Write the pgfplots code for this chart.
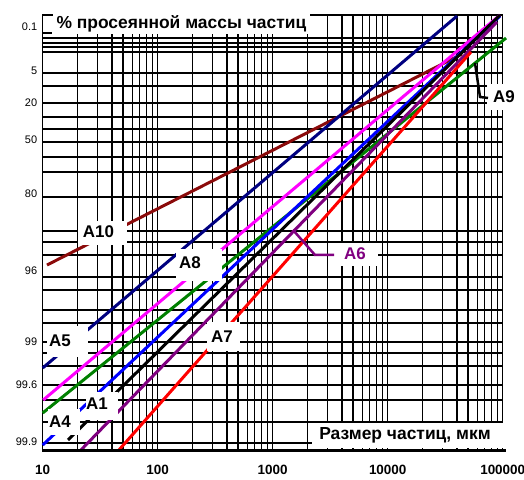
\documentclass[border=0pt]{standalone}
\usepackage{fontspec}
\setmainfont{Liberation Sans}
\usepackage{pgfplots}
\pgfplotsset{compat=1.18}
\definecolor{cmaroon}{HTML}{8B0A0A}
\definecolor{cnavy}{HTML}{000080}
\definecolor{cmag}{HTML}{FF00FF}
\definecolor{cgreen}{HTML}{008000}
\definecolor{cblue}{HTML}{0000FF}
\definecolor{cpurple}{HTML}{800080}
\definecolor{cred}{HTML}{FF0000}
\begin{document}
\begin{tikzpicture}[x=1bp,y=1bp]
\useasboundingbox (0,0) rectangle (524,480);
\begin{axis}[
  at={(42.7bp,29bp)}, anchor=south west,
  scale only axis, width=460bp, height=436bp,
  xmode=log, xmin=10, xmax=100000,
  ymin=-7.084, ymax=2.394,
  clip=false,
  axis line style={line width=1.2bp},
  xmajorgrids, xminorgrids, yminorgrids,
  major grid style={black, line width=1.2bp},
  minor grid style={black, line width=1.2bp},
  major tick length=0pt, minor tick length=0pt,
  xtick={10,100,1000,10000,100000},
  xticklabels={\textbf{10},\textbf{100},\textbf{1000},\textbf{10000},\textbf{100000\hspace{16bp}}},
  minor xtick={20,30,40,50,60,70,80,90,200,300,400,500,600,700,800,900,2000,3000,4000,5000,6000,7000,8000,9000,20000,30000,40000,50000,60000,70000,80000,90000},
  xticklabel style={font=\fontsize{13.5}{16}\selectfont, yshift=-11bp},
  ytick={2.133,1.176,0.481,-0.324,-1.497,-3.171,-4.715,-5.650,-6.889},
  yticklabels={\textnormal{0.1},\textnormal{5},\textnormal{20},\textnormal{50},\textnormal{80},\textnormal{96},\textnormal{99},\textnormal{99.6},\textnormal{99.9}},
  yticklabel style={font=\fontsize{11}{12}\selectfont, xshift=-2bp},
  minor ytick={1.894,1.785,1.698,1.590,1.133,0.850,0.481,0.176,-0.084,-0.367,-0.693,-1.019,-1.563,-2.302,-2.541,-2.824,-3.302,-3.584,-4.019,-4.302,-4.715,-4.954,-5.237,-5.650,-5.976,-6.454,-6.910},
]
% A10
\addplot[cmaroon, line width=3bp] coordinates {(10.9,-3.041) (44260,1.546)};
% A5
\addplot[cnavy, line width=3bp] coordinates {(10,-5.280) (40090,2.372)};
% A8 (magenta)
\addplot[cmag, line width=3bp] coordinates {(10.1,-5.976) (94800,2.394)};
% green
\addplot[cgreen, line width=3bp] coordinates {(10,-6.258) (106900,1.894)};
% blue
\addplot[cblue, line width=3bp] coordinates {(10,-6.954) (94800,2.372)};
% black
\addplot[black, line width=3bp] coordinates {(16.6,-6.845) (94800,2.394)};
% purple A6
\addplot[cpurple, line width=3bp] coordinates {(21.1,-7.084) (89170,2.242)};
% red A7
\addplot[cred, line width=3bp] coordinates {(45.2,-7.084) (53010,1.590)};
\end{axis}
\draw[line width=3bp] (42.7,29) -- (506,29);
% label boxes
\fill[white] (53,446) rectangle (310,467);
\draw[line width=1.2bp] (42.7,447) -- (52,447);
\node[anchor=west, font=\fontsize{17.5}{20}\selectfont\bfseries] at (53,456) {\% просеянной массы частиц};
\fill[white] (312,32) rectangle (506,57);
\node[font=\fontsize{17.5}{20}\selectfont\bfseries] at (405,45) {Размер частиц, мкм};
\tikzset{lab/.style={font=\fontsize{17}{19}\selectfont\bfseries}}
\fill[white] (78,235) rectangle (127,259);
\node[lab] at (98.5,248) {A10};
\fill[white] (176,199) rectangle (222,231);
\node[lab] at (190,217) {A8};
\fill[white] (47,123) rectangle (88,154);
\node[lab] at (60,139) {A5};
\fill[white] (48,45) rectangle (80,71);
\node[lab] at (60,58) {A4};
\fill[white] (86,60) rectangle (118,88);
\node[lab] at (97,76) {A1};
\fill[white] (207,129) rectangle (240,158);
\node[lab] at (222,143) {A7};
\fill[white] (333,214) rectangle (378,237);
\node[lab, text=cpurple] at (355,226) {A6};
\draw[cpurple, line width=2.5bp] (293,250) -- (315,225) -- (334,225);
\fill[white] (487,370) rectangle (520,396);
\node[lab] at (504,383) {A9};
\draw[black, line width=2.5bp] (475,417) -- (480,383) -- (488,382);
\end{tikzpicture}
\end{document}
